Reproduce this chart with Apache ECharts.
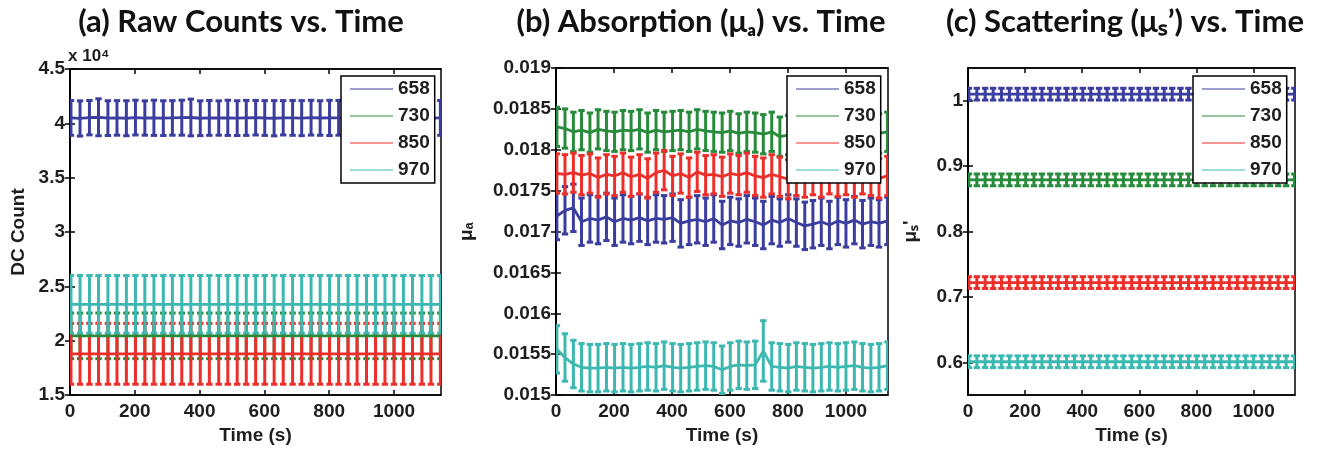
<!DOCTYPE html>
<html>
<head>
<meta charset="utf-8">
<script src="https://cdn.jsdelivr.net/npm/echarts@6/dist/echarts.min.js"></script>
<style>
  html, body { margin: 0; padding: 0; background: #fff; }
  #chart { width: 1317px; height: 450px; }
</style>
</head>
<body>
<div id="chart"></div>
<script>
// sample times (s), shared by the three panels
const times = [3, 31, 60, 88, 117, 145, 174, 202, 231, 259, 288, 316, 345, 373, 402, 430, 459, 487, 516, 544, 573,
  601, 630, 658, 687, 715, 744, 772, 801, 829, 858, 886, 915, 943, 972, 1000, 1029, 1057, 1086, 1114, 1143];
const wavelengths = ['658', '730', '850', '970'];
const colors = ['#3b3e9e', '#288a3b', '#ec2f2a', '#3db8b1'];

// tick labels
const timeTicks = [0, 200, 400, 600, 800, 1000];
const countTicks = [15000, 20000, 25000, 30000, 35000, 40000, 45000];
const muaTicks = [0.015, 0.0155, 0.016, 0.0165, 0.017, 0.0175, 0.018, 0.0185, 0.019];
const musTicks = [0.6, 0.7, 0.8, 0.9, 1];

// (a) raw counts
const count658 = [40500, 40450, 40520, 40560, 40480, 40500, 40470, 40530, 40490, 40510, 40480, 40500, 40520, 40540, 40470, 40500,
  40490, 40510, 40480, 40500, 40520, 40490, 40470, 40510, 40500, 40480, 40520, 40490, 40500, 40510, 40470, 40500, 40490, 40520,
  40480, 40500, 40510, 40490, 40500, 40480, 40500];
const countErr658 = [1600, 1620, 1580, 1700, 1600, 1590, 1610, 1600, 1580, 1620, 1600, 1590, 1610, 1690, 1600, 1600, 1580, 1620,
  1600, 1610, 1590, 1600, 1620, 1580, 1600, 1610, 1600, 1590, 1620, 1600, 1600, 1580, 1610, 1600, 1620, 1590, 1600, 1610, 1600,
  1590, 1600];
const count730 = 20450, countErr730 = 2100;
const count850 = 18800, countErr850 = 2800;
const count970 = 23350, countErr970 = 2650;

// (b) absorption
const mua658 = [0.01719, 0.01726, 0.01729, 0.01712, 0.01716, 0.01714, 0.01718, 0.01712, 0.01716, 0.01714, 0.01717, 0.01713,
  0.01716, 0.01715, 0.01717, 0.01710, 0.01713, 0.01715, 0.01712, 0.01716, 0.01708, 0.01713, 0.01711, 0.01715, 0.01712, 0.01708,
  0.01714, 0.01711, 0.01716, 0.01711, 0.01707, 0.01709, 0.01712, 0.01708, 0.01713, 0.01710, 0.01714, 0.01709, 0.01712, 0.01710, 0.01713];
const mua730 = [0.01828, 0.01826, 0.01822, 0.01824, 0.01821, 0.01825, 0.01823, 0.01822, 0.01824, 0.01823, 0.01825, 0.01821,
  0.01824, 0.01822, 0.01823, 0.01824, 0.01822, 0.01825, 0.01823, 0.01822, 0.01821, 0.01823, 0.01820, 0.01822, 0.01821, 0.01819,
  0.01822, 0.01816, 0.01818, 0.01820, 0.01821, 0.01822, 0.01821, 0.01823, 0.01820, 0.01822, 0.01821, 0.01823, 0.01822, 0.01820, 0.01822];
const mua850 = [0.01771, 0.01770, 0.01772, 0.01769, 0.01771, 0.01766, 0.01770, 0.01768, 0.01772, 0.01767, 0.01770, 0.01765,
  0.01772, 0.01775, 0.01768, 0.01771, 0.01766, 0.01773, 0.01769, 0.01770, 0.01767, 0.01771, 0.01769, 0.01772, 0.01768, 0.01766,
  0.01770, 0.01767, 0.01764, 0.01768, 0.01766, 0.01769, 0.01766, 0.01770, 0.01767, 0.01769, 0.01766, 0.01770, 0.01768, 0.01765, 0.01768];
const mua970 = [0.01556, 0.01546, 0.01538, 0.01534, 0.01533, 0.01533, 0.01534, 0.01533, 0.01534, 0.01533, 0.01534, 0.01535,
  0.01534, 0.01536, 0.01534, 0.01533, 0.01534, 0.01535, 0.01536, 0.01535, 0.01531, 0.01535, 0.01537, 0.01536, 0.01537, 0.01554,
  0.01535, 0.01534, 0.01533, 0.01535, 0.01534, 0.01533, 0.01534, 0.01535, 0.01534, 0.01535, 0.01536, 0.01534, 0.01533, 0.01534, 0.01536];
const muaErr = [0.00029, 0.00024, 0.00024, 0.00029];
const muaErr970Spike = 0.00037; // the single wider bar near 715 s

// (c) reduced scattering
const mus658 = 1.010, mus730 = 0.879, mus850 = 0.722, mus970 = 0.601;
const musErr = 0.009;

function rows(means, errs) {
  return times.map((t, i) => {
    const m = Array.isArray(means) ? means[i] : means;
    const e = Array.isArray(errs) ? errs[i] : errs;
    return [t, m, m - e, m + e];
  });
}

function errRender(params, api) {
  const x = api.value(0);
  const top = api.coord([x, api.value(3)]);
  const bot = api.coord([x, api.value(2)]);
  const hw = 3.2;
  const style = { stroke: api.visual('color'), lineWidth: 3 };
  return {
    type: 'group',
    children: [
      { type: 'line', shape: { x1: top[0], y1: top[1], x2: bot[0], y2: bot[1] }, style },
      { type: 'line', shape: { x1: top[0] - hw, y1: top[1], x2: top[0] + hw, y2: top[1] }, style },
      { type: 'line', shape: { x1: bot[0] - hw, y1: bot[1], x2: bot[0] + hw, y2: bot[1] }, style }
    ]
  };
}

const tickFont = { fontFamily: 'Liberation Sans', fontWeight: 'bold', fontSize: 19, color: '#1e1e1e' };
const nameFont = { fontFamily: 'Liberation Sans', fontWeight: 'bold', fontSize: 19, color: '#1e1e1e' };

const grids = [
  { left: 70, top: 69, width: 371, height: 332 },
  { left: 556, top: 68, width: 332, height: 332 },
  { left: 968, top: 68, width: 327, height: 333 }
].map((g) => Object.assign({ show: true, borderColor: '#000', borderWidth: 1.5, backgroundColor: '#fff' }, g));

const xAxes = [];
const yAxes = [];
const yDefs = [
  { min: 15000, max: 45000, ticks: countTicks, fmt: (v) => String(v / 10000), name: 'DC Count', gap: 42 },
  { min: 0.015, max: 0.019, ticks: muaTicks, fmt: (v) => String(+v.toFixed(4)), name: 'μₐ', gap: 80 },
  { min: 0.55, max: 1.05, ticks: musTicks, fmt: (v) => String(+v.toFixed(1)), name: 'μₛ\'', gap: 48 }
];
yDefs.forEach((d, g) => {
  xAxes.push({
    type: 'value', gridIndex: g, min: 0, max: 1145, position: 'bottom',
    name: 'Time (s)', nameLocation: 'middle', nameGap: 28, nameTextStyle: nameFont,
    axisLine: { show: true, lineStyle: { color: '#000', width: 1.5 } },
    axisTick: { show: true, inside: true, length: 5, customValues: timeTicks, lineStyle: { color: '#000', width: 1.5 } },
    axisLabel: { customValues: timeTicks, margin: 7, formatter: (v) => String(v), ...tickFont },
    splitLine: { show: false }
  });
  xAxes.push({
    type: 'value', gridIndex: g, min: 0, max: 1145, position: 'top',
    axisLine: { show: true, lineStyle: { color: '#000', width: 1.5 } },
    axisTick: { show: true, inside: true, length: 5, customValues: timeTicks, lineStyle: { color: '#000', width: 1.5 } },
    axisLabel: { show: false }, splitLine: { show: false }
  });
  yAxes.push({
    type: 'value', gridIndex: g, min: d.min, max: d.max, position: 'left',
    name: d.name, nameLocation: 'middle', nameGap: d.gap, nameTextStyle: nameFont,
    axisLine: { show: true, lineStyle: { color: '#000', width: 1.5 } },
    axisTick: { show: true, inside: true, length: 5, customValues: d.ticks, lineStyle: { color: '#000', width: 1.5 } },
    axisLabel: { customValues: d.ticks, margin: 5, formatter: d.fmt, ...tickFont },
    splitLine: { show: false }
  });
  yAxes.push({
    type: 'value', gridIndex: g, min: d.min, max: d.max, position: 'right',
    axisLine: { show: true, lineStyle: { color: '#000', width: 1.5 } },
    axisTick: { show: true, inside: true, length: 5, customValues: d.ticks, lineStyle: { color: '#000', width: 1.5 } },
    axisLabel: { show: false }, splitLine: { show: false }
  });
});

const panelData = [
  [rows(count658, countErr658), rows(count730, countErr730), rows(count850, countErr850), rows(count970, countErr970)],
  [rows(mua658, muaErr[0]), rows(mua730, muaErr[1]), rows(mua850, muaErr[2]),
    rows(mua970, muaErr[3]).map((r, i) => i === 25 ? [r[0], r[1], r[1] - muaErr970Spike, r[1] + muaErr970Spike] : r)],
  [rows(mus658, musErr), rows(mus730, musErr), rows(mus850, musErr), rows(mus970, musErr)]
];

const series = [];
panelData.forEach((panel, g) => {
  panel.forEach((data, k) => {
    series.push({
      type: 'custom', name: wavelengths[k] + ' bars', xAxisIndex: g * 2, yAxisIndex: g * 2,
      data, encode: { x: 0, y: 1 }, renderItem: errRender, clip: true,
      itemStyle: { color: colors[k] }, silent: true
    });
    series.push({
      type: 'line', name: wavelengths[k], xAxisIndex: g * 2, yAxisIndex: g * 2,
      data: data.map((r) => [r[0], r[1]]), showSymbol: false, clip: true,
      lineStyle: { color: colors[k], width: 2.8 }, itemStyle: { color: colors[k] }, silent: true
    });
  });
});

const legendBase = {
  orient: 'vertical', top: 76, data: wavelengths, icon: 'rect', itemWidth: 43, itemHeight: 1.2,
  itemGap: 7, padding: [3, 5, 3, 9], backgroundColor: '#fff', borderColor: '#000', borderWidth: 1.5,
  selectedMode: false, textStyle: { fontFamily: 'Liberation Sans', fontWeight: 'bold', fontSize: 19, color: '#1e1e1e', lineHeight: 20 }
};

const titleStyle = { font: 'bold 31px Lato', fill: '#111', align: 'center', verticalAlign: 'middle' };

const chart = echarts.init(document.getElementById('chart'));
chart.setOption({
  animation: false,
  grid: grids,
  xAxis: xAxes,
  yAxis: yAxes,
  legend: [
    Object.assign({ left: 341 }, legendBase),
    Object.assign({ left: 787 }, legendBase),
    Object.assign({ left: 1193 }, legendBase)
  ],
  series,
  graphic: [
    { type: 'text', x: 241, y: 22, style: Object.assign({ text: '(a) Raw Counts vs. Time' }, titleStyle) },
    { type: 'text', x: 701, y: 22, style: Object.assign({ text: '(b) Absorption (μₐ) vs. Time' }, titleStyle) },
    { type: 'text', x: 1125, y: 22, style: Object.assign({ text: '(c) Scattering (μₛ’) vs. Time' }, titleStyle) },
    { type: 'text', x: 68, y: 56, style: { text: 'x 10⁴', font: 'bold 17px Liberation Sans', fill: '#1e1e1e', verticalAlign: 'middle' } }
  ]
});
</script>
</body>
</html>
